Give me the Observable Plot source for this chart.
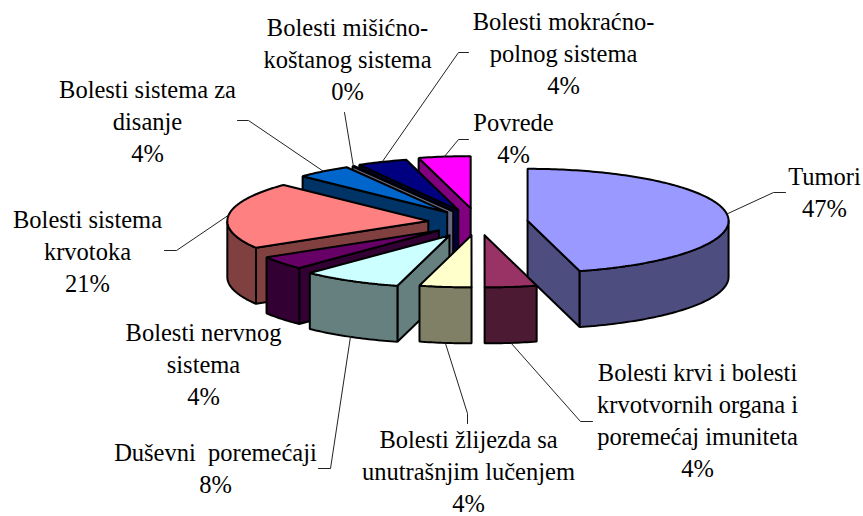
<!DOCTYPE html>
<html>
<head>
<meta charset="utf-8">
<script src="https://cdn.jsdelivr.net/npm/d3@7"></script>
<script src="https://cdn.jsdelivr.net/npm/@observablehq/plot@0.6"></script>
<style>html,body{margin:0;padding:0;background:#fff}svg{display:block}</style>
</head>
<body>
<div id="chart"></div>
<script>
const categories = ["Tumori","Krv","Žlijezde","Duševni","Nervni","Krvotok","Disanje","Mišićno","Mokraćno","Povrede"];
const sliceValues = [45.83, 4.17, 4.17, 8.06, 4.17, 20.83, 4.44, 0.14, 4.03, 4.17];
const explodeBy = [50, 50, 50, 58, 50, 50, 50, 50, 52, 56];
const topColors  = ["#9999FF","#993366","#FFFFCC","#CCFFFF","#660066","#FF8080","#0066CC","#CCCCFF","#000080","#FF00FF"];
const sideColors = ["#4D4D80","#4D1A33","#808066","#668080","#330033","#804040","#003366","#666680","#000040","#800080"];
const labelTexts = [
  "Tumori\n47%",
  "Bolesti krvi i bolesti\nkrvotvornih organa i\nporemećaj imuniteta\n4%",
  "Bolesti žlijezda sa\nunutrašnjim lučenjem\n4%",
  "Duševni  poremećaji\n8%",
  "Bolesti nervnog\nsistema\n4%",
  "Bolesti sistema\nkrvotoka\n21%",
  "Bolesti sistema za\ndisanje\n4%",
  "Bolesti mišićno-\nkoštanog sistema\n0%",
  "Bolesti mokraćno-\npolnog sistema\n4%",
  "Povrede\n4%"
];
const labelX = [824, 697, 468, 215, 203, 87, 147, 347, 563, 513];
const labelY = [190, 418.5, 469, 466, 362.5, 249.5, 119.5, 57.5, 51.5, 136.5];
const leaderPaths = [
  [[773,192],[785,192]],
  [[580,421],[592,421]],
  [[467,413],[467,423]],
  [[330,468],[318,468]],
  [],
  [[176,250],[164,250]],
  [[248,120],[237,120]],
  [[344,112]],
  [[458,52],[468,52]],
  [[458,139],[468,139]]
];
const center = [477.5, 222], rx = 201, ry = 52, depth = 56;

const rad = d => d * Math.PI / 180;
const total = d3.sum(sliceValues);
let acc = 0;
const slices = categories.map((name, i) => {
  const a0 = acc / total * 360;
  acc += sliceValues[i];
  const a1 = acc / total * 360;
  const mid = rad((a0 + a1) / 2);
  const ax = center[0] + explodeBy[i] * Math.sin(mid);
  const ay = center[1] - explodeBy[i] * (ry / rx) * Math.cos(mid);
  return {i, name, a0, a1, ax, ay};
});
const rim = (s, a, dz = 0) => [s.ax + rx * Math.sin(rad(a)), s.ay - ry * Math.cos(rad(a)) + dz];
const arc = (s, from, to, dz = 0) => {
  const n = Math.max(2, Math.ceil(Math.abs(to - from)));
  return d3.range(n + 1).map(k => rim(s, from + (to - from) * k / n, dz));
};

const faces = [];
const addFace = (pts, fill) => {
  const id = faces.length ? faces[faces.length - 1].id + 1 : 0;
  [...pts, pts[0]].forEach(([x, y]) => faces.push({id, x, y, fill}));
};
const order = [9, 8, 7, 6, 5, 4, 3, 2, 1, 0];
for (const i of order) {
  const s = slices[i], side = sideColors[i], apex = [s.ax, s.ay], apexLow = [s.ax, s.ay + depth];
  if (s.a0 > 180.5 && s.a0 < 360) addFace([apex, rim(s, s.a0), rim(s, s.a0, depth), apexLow], side);
  if (s.a1 > 0 && s.a1 < 179.5) addFace([apex, rim(s, s.a1), rim(s, s.a1, depth), apexLow], side);
  const w0 = Math.max(s.a0, 90), w1 = Math.min(s.a1, 270);
  if (w1 > w0) addFace([...arc(s, w0, w1), ...arc(s, w1, w0, depth)], side);
  addFace([apex, ...arc(s, s.a0, s.a1)], topColors[i]);
}

const leaders = [];
slices.forEach((s, i) => {
  if (!leaderPaths[i].length) return;
  const m = (s.a0 + s.a1) / 2;
  const start = rim(s, m, m > 90 && m < 270 ? depth : 0);
  [start, ...leaderPaths[i]].forEach(([x, y]) => leaders.push({i, x, y}));
});
const labels = labelTexts.map((text, i) => ({text, x: labelX[i], y: labelY[i]}));

const plot = Plot.plot({
  width: 863, height: 516,
  margin: 0,
  x: {domain: [0, 863], range: [0, 863], axis: null},
  y: {domain: [0, 516], range: [0, 516], axis: null},
  style: {background: "#fff"},
  marks: [
    Plot.line(faces, {x: "x", y: "y", z: "id", fill: "fill", stroke: "#000", strokeWidth: 2, strokeLinejoin: "miter", curve: "linear"}),
    Plot.line(leaders, {x: "x", y: "y", z: "i", stroke: "#222", strokeWidth: 1, curve: "linear"}),
    Plot.text(labels, {x: "x", y: "y", text: "text", textAnchor: "middle", lineAnchor: "middle", lineHeight: 1.3, fontFamily: "Liberation Serif", fontSize: 24.5, fill: "#000"})
  ]
});
document.getElementById("chart").append(plot);
</script>
</body>
</html>
